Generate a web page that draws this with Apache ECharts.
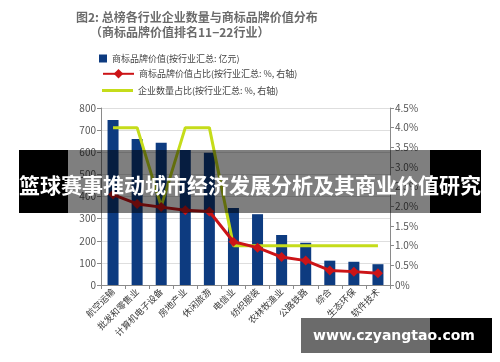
<!DOCTYPE html>
<html><head><meta charset="utf-8">
<script src="https://cdn.jsdelivr.net/npm/echarts@6/dist/echarts.min.js"></script>
<style>html,body{margin:0;padding:0;background:#fff}#c{width:500px;height:362px}</style>
</head><body><div id="c"></div>
<script>
const categories = ['航空运输','批发和零售业','计算机电子设备','房地产业','休闲旅游','电信业','纺织服装','农林牧渔业','公路铁路','综合','生态环保','软件技术'];
const brandValue = [746, 660, 643, 610, 598, 348, 320, 226, 191, 110, 105, 94];
const brandShare = [2.3, 2.06, 1.98, 1.9, 1.87, 1.1, 0.95, 0.71, 0.62, 0.37, 0.34, 0.30];
const companyShare = [4.0, 4.0, 2.0, 4.0, 4.0, 1.0, 1.0, 1.0, 1.0, 1.0, 1.0, 1.0];
const leftTicks = {min: 0, max: 800, interval: 100};
const rightTicks = {min: 0, max: 4.5, interval: 0.5};
const titleLines = ['图2: 总榜各行业企业数量与商标品牌价值分布', '（商标品牌价值排名11−22行业）'];
const seriesNames = ['商标品牌价值(按行业汇总: 亿元)', '商标品牌价值占比(按行业汇总: %, 右轴)', '企业数量占比(按行业汇总: %, 右轴)'];
const bannerText = '篮球赛事推动城市经济发展分析及其商业价值研究';
const watermarkText = 'www.czyangtao.com';

const FONT = '"Noto Sans CJK SC", "Noto Sans", sans-serif';
const chart = echarts.init(document.getElementById('c'), null, {renderer: 'canvas'});
const axisGray = '#8a8a8a';
const legendText = {fontSize: 9, color: '#444', fontFamily: FONT};
chart.setOption({
  animation: false,
  backgroundColor: '#fff',
  textStyle: {fontFamily: FONT},
  grid: {left: 101, right: 110, top: 108, bottom: 77},
  legend: [
    {data: [{name: seriesNames[0], icon: 'rect'}], left: 94, top: 49, itemWidth: 8, itemHeight: 8, itemGap: 0,
     textStyle: legendText, selectedMode: false},
    {data: [seriesNames[1]], left: 97, top: 64, itemWidth: 31, itemHeight: 12,
     textStyle: legendText, selectedMode: false},
    {data: [{name: seriesNames[2], icon: 'rect'}], left: 97, top: 81, itemWidth: 31, itemHeight: 3,
     textStyle: legendText, selectedMode: false}
  ],
  xAxis: {
    type: 'category', data: categories, boundaryGap: true,
    axisLine: {lineStyle: {color: axisGray}},
    axisTick: {show: true, interval: 0, length: 4, lineStyle: {color: axisGray}},
    axisLabel: {interval: 0, rotate: 45, fontSize: 9, color: '#3a3a3a', margin: 5, fontFamily: FONT}
  },
  yAxis: [
    {type: 'value', min: leftTicks.min, max: leftTicks.max, interval: leftTicks.interval,
     axisLine: {show: true, lineStyle: {color: axisGray}},
     axisTick: {show: true, length: 4, lineStyle: {color: axisGray}},
     axisLabel: {fontSize: 10, color: '#555', margin: 5},
     splitLine: {show: true, lineStyle: {color: '#dedede', width: 1}}},
    {type: 'value', min: rightTicks.min, max: rightTicks.max, interval: rightTicks.interval, position: 'right',
     axisLine: {show: true, lineStyle: {color: axisGray}},
     axisTick: {show: true, length: 4, lineStyle: {color: axisGray}},
     axisLabel: {fontSize: 10, color: '#555', margin: 5, formatter: v => v === 0 ? '0%' : v.toFixed(1) + '%'},
     splitLine: {show: false}}
  ],
  series: [
    {name: seriesNames[0], type: 'bar', data: brandValue, barWidth: 11, itemStyle: {color: '#0d3b80'}, z: 2},
    {name: seriesNames[2], type: 'line', yAxisIndex: 1, data: companyShare, symbol: 'none',
     lineStyle: {color: '#c5dc1a', width: 3}, itemStyle: {color: '#c5dc1a'}, z: 3},
    {name: seriesNames[1], type: 'line', yAxisIndex: 1, data: brandShare, symbol: 'diamond', symbolSize: 10,
     lineStyle: {color: '#cc1417', width: 3}, itemStyle: {color: '#cc1417'}, z: 4}
  ],
  graphic: [
    {type: 'text', left: 76, top: 11, style: {text: titleLines[0], fontSize: 12, fontWeight: 'bold', fontFamily: FONT, fill: '#6b6b6b'}},
    {type: 'text', left: 90, top: 26, style: {text: titleLines[1], fontSize: 12, fontWeight: 'bold', fontFamily: FONT, fill: '#6b6b6b'}},
    {type: 'rect', shape: {x: 19, y: 150, width: 49, height: 63}, style: {fill: '#000'}, z: 100},
    {type: 'rect', shape: {x: 68, y: 150, width: 362, height: 63}, style: {fill: 'rgba(0,0,0,0.5)'}, z: 100},
    {type: 'rect', shape: {x: 430, y: 150, width: 51, height: 63}, style: {fill: '#000'}, z: 100},
    {type: 'text', x: 250, y: 185, z: 101, style: {text: bannerText, fontSize: 21, fontWeight: 'bold', fontFamily: FONT, fill: '#fff', align: 'center', verticalAlign: 'middle'}},
    {type: 'rect', shape: {x: 301, y: 318, width: 129, height: 35}, style: {fill: 'rgba(0,0,0,0.58)'}, z: 100},
    {type: 'rect', shape: {x: 430, y: 318, width: 62, height: 35}, style: {fill: '#000'}, z: 100},
    {type: 'text', x: 394, y: 336, z: 101, style: {text: watermarkText, fontSize: 14, fontWeight: 'bold', fontFamily: '"DejaVu Sans", sans-serif', fill: '#fff', align: 'center', verticalAlign: 'middle'}}
  ]
});
</script></body></html>
